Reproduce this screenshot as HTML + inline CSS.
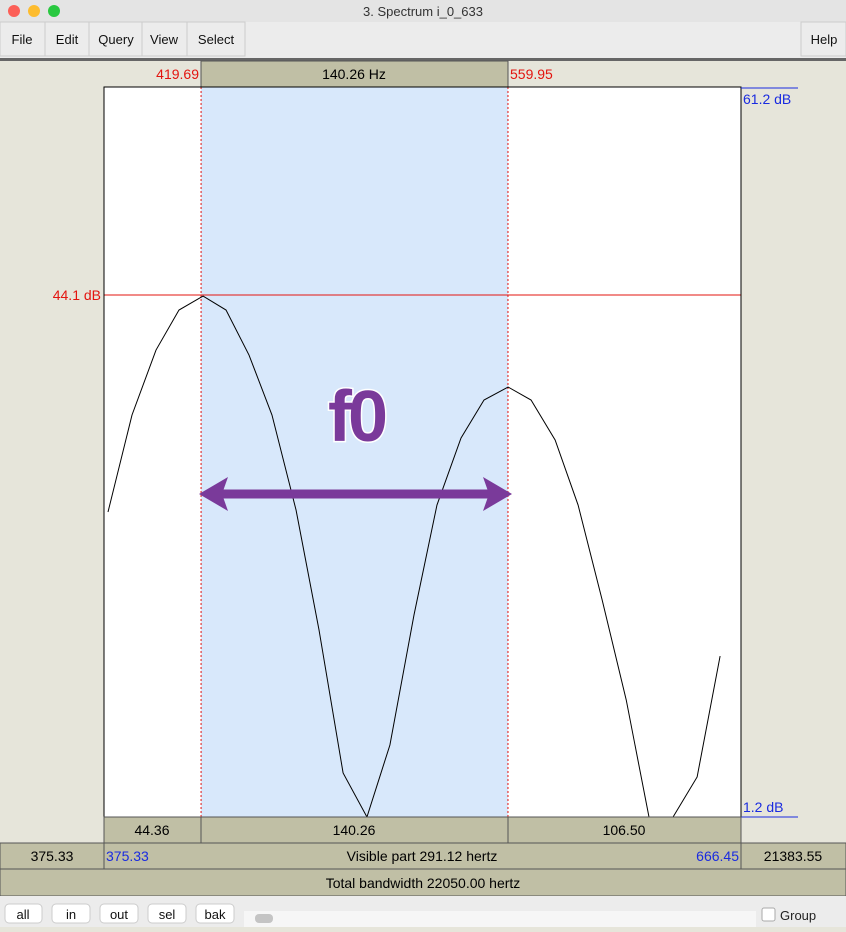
<!DOCTYPE html>
<html><head><meta charset="utf-8"><style>
body{margin:0;width:846px;height:927px;overflow:hidden;font-family:"Liberation Sans",sans-serif;background:#e6e5da}
svg text{font-family:"Liberation Sans",sans-serif}
</style></head><body>
<svg width="846" height="927" viewBox="0 0 846 927">
<rect x="0" y="0" width="846" height="22" fill="#e4e4e4"/>
<circle cx="14" cy="11" r="6" fill="#fc5f57"/>
<circle cx="34" cy="11" r="6" fill="#fdbc2e"/>
<circle cx="54" cy="11" r="6" fill="#29c840"/>
<text x="423" y="16" font-size="13" text-anchor="middle" fill="#333">3. Spectrum i_0_633</text>
<rect x="0" y="22" width="846" height="36" fill="#ececec"/>
<g font-size="13" fill="#111" text-anchor="middle">
<rect x="0" y="22" width="45" height="34" fill="#ececec" stroke="#ccc"/><text x="22" y="44">File</text>
<rect x="45" y="22" width="44" height="34" fill="#ececec" stroke="#ccc"/><text x="67" y="44">Edit</text>
<rect x="89" y="22" width="53" height="34" fill="#ececec" stroke="#ccc"/><text x="116" y="44">Query</text>
<rect x="142" y="22" width="45" height="34" fill="#ececec" stroke="#ccc"/><text x="164" y="44">View</text>
<rect x="187" y="22" width="58" height="34" fill="#ececec" stroke="#ccc"/><text x="216" y="44">Select</text>
<rect x="801" y="22" width="45" height="34" fill="#ececec" stroke="#ccc"/><text x="824" y="44">Help</text>
</g>
<rect x="0" y="58" width="846" height="3" fill="#666"/>
<rect x="0" y="61" width="846" height="835" fill="#e6e5da"/>
<rect x="201" y="61" width="307" height="26" fill="#c0bfa5" stroke="#555"/>
<text x="354" y="79" font-size="14" text-anchor="middle">140.26 Hz</text>
<text x="199" y="79" font-size="14" text-anchor="end" fill="#e3140f">419.69</text>
<text x="510" y="79" font-size="14" fill="#e3140f">559.95</text>
<g id="plot"></g>
<rect x="104" y="817" width="97" height="26" fill="#c0bfa5" stroke="#555"/>
<text x="152" y="835" font-size="14" text-anchor="middle">44.36</text>
<rect x="201" y="817" width="307" height="26" fill="#c0bfa5" stroke="#555"/>
<text x="354" y="835" font-size="14" text-anchor="middle">140.26</text>
<rect x="508" y="817" width="233" height="26" fill="#c0bfa5" stroke="#555"/>
<text x="624" y="835" font-size="14" text-anchor="middle">106.50</text>
<rect x="0" y="843" width="104" height="26" fill="#c0bfa5" stroke="#555"/>
<text x="52" y="861" font-size="14" text-anchor="middle">375.33</text>
<rect x="104" y="843" width="637" height="26" fill="#c0bfa5" stroke="#555"/>
<text x="106" y="861" font-size="14" fill="#1a2be0">375.33</text>
<text x="422" y="861" font-size="14" text-anchor="middle">Visible part 291.12 hertz</text>
<text x="739" y="861" font-size="14" text-anchor="end" fill="#1a2be0">666.45</text>
<rect x="741" y="843" width="105" height="26" fill="#c0bfa5" stroke="#555"/>
<text x="793" y="861" font-size="14" text-anchor="middle">21383.55</text>
<rect x="0" y="869" width="846" height="27" fill="#c0bfa5" stroke="#555"/>
<text x="423" y="888" font-size="14" text-anchor="middle">Total bandwidth 22050.00 hertz</text>
<rect x="0" y="896" width="846" height="31" fill="#ececec"/>
<g font-size="13" text-anchor="middle" fill="#111">
<rect x="5" y="904" width="37" height="19" rx="4" fill="#fff" stroke="#ccc"/><text x="23" y="919">all</text>
<rect x="52" y="904" width="38" height="19" rx="4" fill="#fff" stroke="#ccc"/><text x="71" y="919">in</text>
<rect x="100" y="904" width="38" height="19" rx="4" fill="#fff" stroke="#ccc"/><text x="119" y="919">out</text>
<rect x="148" y="904" width="38" height="19" rx="4" fill="#fff" stroke="#ccc"/><text x="167" y="919">sel</text>
<rect x="196" y="904" width="38" height="19" rx="4" fill="#fff" stroke="#ccc"/><text x="215" y="919">bak</text>
</g>
<rect x="244" y="911" width="512" height="16" fill="#f6f6f6"/>
<rect x="255" y="914" width="18" height="9" rx="4" fill="#c4c4c4"/>
<rect x="762" y="908" width="13" height="13" rx="2" fill="#fff" stroke="#aaa"/>
<text x="780" y="920" font-size="13" fill="#222">Group</text>
</svg>
<script>
const freqs=[377.16,388.13,399.1,409.6,420.6,431.1,441.6,452.1,463.1,473.6,484.6,495.5,506.0,517.0,527.5,538.5,549.0,560.0,570.5,581.5,592.0,603.0,614.0,624.4,635.4,646.4,656.9];
const dbs=[26.27,34.24,39.58,42.87,44.02,42.87,39.17,34.24,26.43,16.57,4.82,1.2,7.12,17.8,26.84,32.35,35.47,36.54,35.47,32.19,26.84,19.04,10.82,1.2,1.2,4.49,14.43];
const xRange=[375.33,666.45];
const yRange=[1.2,61.2];
const selection=[419.69,559.95];
const cursorDb=44.1;
const L=104,R=741,T=87,B=817;
const sx=f=>L+(f-xRange[0])/(xRange[1]-xRange[0])*(R-L);
const sy=d=>B-(d-yRange[0])/(yRange[1]-yRange[0])*(B-T);
const NS='http://www.w3.org/2000/svg';
const g=document.getElementById('plot');
function mk(t,a){const e=document.createElementNS(NS,t);for(const k in a)e.setAttribute(k,a[k]);g.appendChild(e);return e;}
let e;
e=mk('rect',{x:L,y:T,width:R-L,height:B-T,fill:'#fff'});


e=mk('rect',{x:sx(selection[0]),y:T,width:sx(selection[1])-sx(selection[0]),height:B-T,fill:'#d8e8fb'});


selection.forEach((f,i)=>{e=mk('line',{x1:sx(f),x2:sx(f),y1:T,y2:B,stroke:'#e3140f','stroke-dasharray':'2,2','stroke-width':1});

});
e=mk('line',{x1:L,x2:R,y1:sy(cursorDb),y2:sy(cursorDb),stroke:'#e3140f','stroke-width':1});


e=mk('text',{x:L-3,y:sy(cursorDb)+5,'font-size':14,fill:'#e3140f','text-anchor':'end'});e.textContent=cursorDb.toFixed(1)+' dB';


e=mk('polyline',{points:freqs.map((f,i)=>sx(f)+','+sy(dbs[i])).join(' '),fill:'none',stroke:'#000','stroke-width':1});


e=mk('rect',{x:L,y:T,width:R-L,height:B-T,fill:'none',stroke:'#000','stroke-width':1});


[[yRange[1],T+17,'y-max-label'],[yRange[0],B-5,'y-min-label']].forEach(([v,y,n])=>{
e=mk('text',{x:R+2,y:y,'font-size':14,fill:'#1a2be0'});e.textContent=v.toFixed(1)+' dB';


e=mk('line',{x1:R,x2:R+57,y1:n==='y-max-label'?T+1:B,y2:n==='y-max-label'?T+1:B,stroke:'#1a2be0'});

});
// f0 arrow
const ay=494;
e=mk('path',{d:`M${sx(selection[0])+14},${ay} L${sx(selection[1])-12},${ay}`,stroke:'#7a3a9a','stroke-width':9});


e=mk('path',{d:`M199,${ay} L228,477 L222,${ay} L228,511 Z M512,${ay} L483,477 L489,${ay} L483,511 Z`,fill:'#7a3a9a'});


e=mk('text',{x:356,y:441,'font-size':72,'font-weight':'bold',fill:'#7a3a9a',stroke:'#fff','stroke-width':3,'paint-order':'stroke','text-anchor':'middle','letter-spacing':'-4'});e.textContent='f0';


</script>
</body></html>
